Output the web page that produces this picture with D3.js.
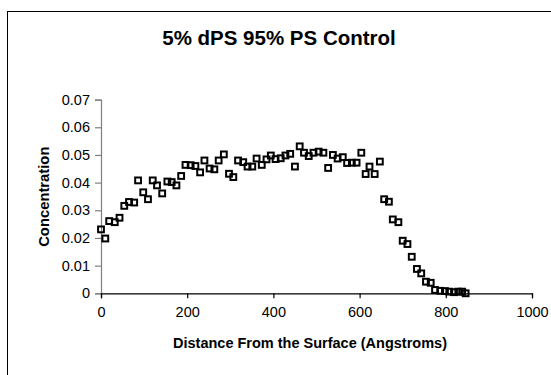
<!DOCTYPE html>
<html>
<head>
<meta charset="utf-8">
<script src="https://cdn.jsdelivr.net/npm/d3@7"></script>
<style>
  html, body { margin: 0; padding: 0; background: #ffffff; }
  svg { display: block; }
  text { font-family: "Liberation Sans", Arial, Helvetica, sans-serif; fill: #000; }
</style>
</head>
<body>
<svg id="chart" width="551" height="375"></svg>
<script>
const title = "5% dPS 95% PS Control";
const xTitle = "Distance From the Surface (Angstroms)";
const yTitle = "Concentration";

const xTicks = [0, 200, 400, 600, 800, 1000];
const yTicks = [0, 0.01, 0.02, 0.03, 0.04, 0.05, 0.06, 0.07];

const distance = [
  0, 10, 19, 32, 43, 54, 65, 77, 86, 98,
  109, 120, 130, 142, 154, 164, 175, 186, 196, 208,
  219, 230, 240, 252, 263, 273, 285, 297, 307, 318,
  330, 340, 351, 361, 373, 384, 394, 405, 417, 428,
  439, 450, 461, 471, 482, 493, 505, 516, 527, 538,
  549, 561, 571, 582, 593, 604, 614, 623, 635, 647,
  657, 668, 677, 690, 700, 711, 721, 733, 743, 754,
  765, 775, 787, 798, 808, 819, 829, 838, 846
];
const concentration = [
  0.0231, 0.0198, 0.0261, 0.0257, 0.0273, 0.0316, 0.0330, 0.0328, 0.0408, 0.0365,
  0.0340, 0.0408, 0.0390, 0.0361, 0.0404, 0.0402, 0.0390, 0.0424, 0.0464, 0.0463,
  0.0460, 0.0437, 0.0480, 0.0451, 0.0448, 0.0480, 0.0502, 0.0432, 0.0420, 0.0480,
  0.0474, 0.0458, 0.0458, 0.0487, 0.0464, 0.0484, 0.0498, 0.0485, 0.0488, 0.0498,
  0.0504, 0.0458, 0.0531, 0.0508, 0.0496, 0.0508, 0.0512, 0.0508, 0.0453, 0.0500,
  0.0487, 0.0492, 0.0471, 0.0472, 0.0472, 0.0508, 0.0431, 0.0458, 0.0431, 0.0476,
  0.0340, 0.0331, 0.0267, 0.0257, 0.0190, 0.0178, 0.0132, 0.0088, 0.0072, 0.0042,
  0.0038, 0.0012, 0.0009, 0.0008, 0.0006, 0.0004, 0.0006, 0.0006, 0.0000
];

const svg = d3.select("#chart");

// chart area border (extends past the window on right and bottom)
svg.append("rect")
  .attr("x", 7.5).attr("y", 11.5)
  .attr("width", 700).attr("height", 500)
  .attr("fill", "#fff").attr("stroke", "#000").attr("stroke-width", 1);

const x = d3.scaleLinear().domain([0, 1000]).range([101, 532]);
const y = d3.scaleLinear().domain([0, 0.07]).range([293.3, 99.6]);

// Y axis
const yAxis = svg.append("g")
  .attr("transform", `translate(${x(0)},0)`)
  .call(d3.axisLeft(y).tickValues(yTicks).tickSize(6).tickPadding(5)
        .tickFormat(d => d === 0 ? "0" : d3.format(".2f")(d)));
yAxis.select(".domain").attr("stroke", "#808080").attr("stroke-width", 1.2);
yAxis.selectAll(".tick line").attr("stroke", "#808080").attr("stroke-width", 1.2);
yAxis.selectAll(".tick text")
  .style("font-family", '"Liberation Sans", Arial, sans-serif')
  .style("font-size", "14.5px").attr("fill", "#000");

// X axis
const xAxis = svg.append("g")
  .attr("transform", `translate(0,${y(0)})`)
  .call(d3.axisBottom(x).tickValues(xTicks).tickSize(5).tickPadding(8)
        .tickFormat(d3.format("d")));
xAxis.select(".domain").attr("stroke", "#000").attr("stroke-width", 1.2);
xAxis.selectAll(".tick line").attr("stroke", "#000").attr("stroke-width", 1.2);
xAxis.selectAll(".tick text")
  .style("font-family", '"Liberation Sans", Arial, sans-serif')
  .style("font-size", "14.5px").attr("fill", "#000");

// markers: open squares
const pts = distance.map((d, i) => ({ d, c: concentration[i] }));
svg.append("g").selectAll("rect")
  .data(pts).enter().append("rect")
  .attr("x", p => x(p.d) - 2.9)
  .attr("y", p => y(p.c) - 2.9)
  .attr("width", 5.8).attr("height", 5.8)
  .attr("fill", "none").attr("stroke", "#000").attr("stroke-width", 2);

// titles
svg.append("text")
  .attr("x", 279).attr("y", 45)
  .attr("text-anchor", "middle")
  .style("font-size", "20.5px").style("font-weight", "bold")
  .text(title);

svg.append("text")
  .attr("x", 310).attr("y", 347.5)
  .attr("text-anchor", "middle")
  .style("font-size", "14.5px").style("font-weight", "bold")
  .text(xTitle);

svg.append("text")
  .attr("transform", "translate(48.5,196.7) rotate(-90)")
  .attr("text-anchor", "middle")
  .style("font-size", "14.8px").style("font-weight", "bold")
  .text(yTitle);
</script>
</body>
</html>
